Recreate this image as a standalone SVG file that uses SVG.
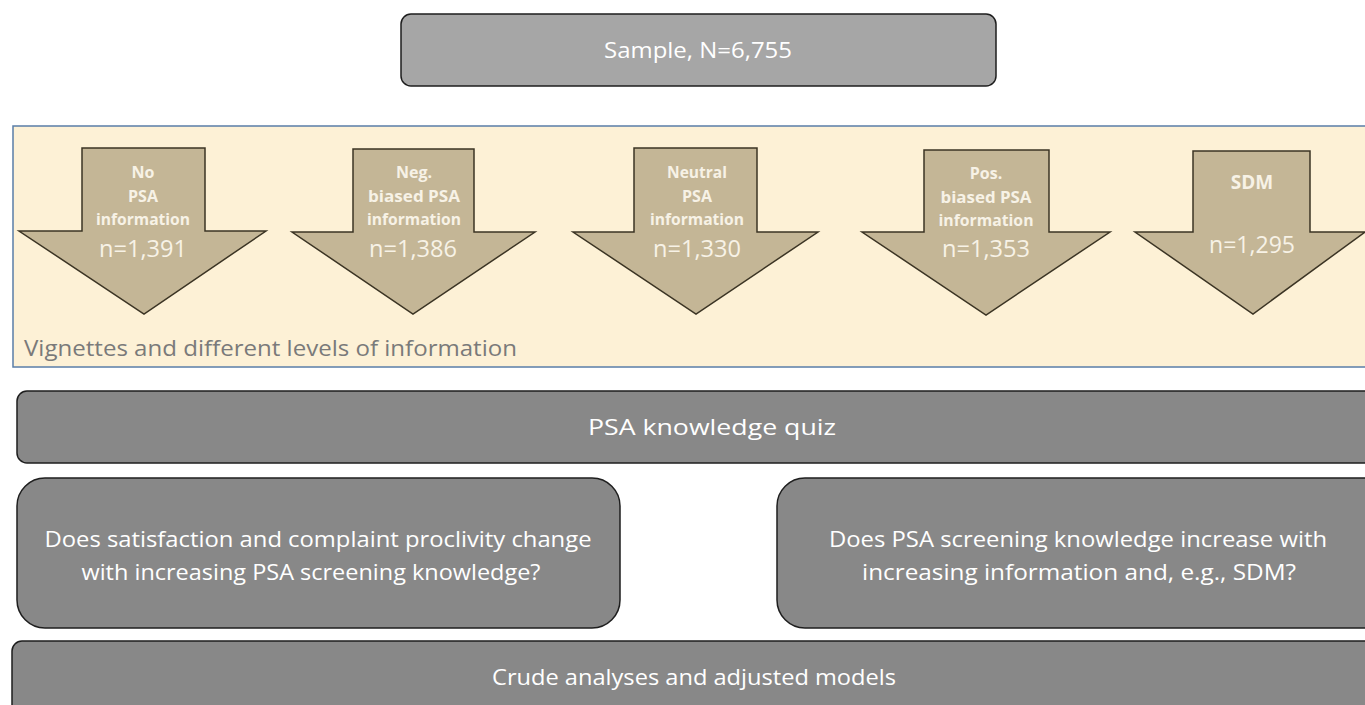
<svg xmlns="http://www.w3.org/2000/svg" width="1365" height="705" viewBox="0 0 1365 705">
<style>
.box{fill:#888888;stroke:#1e1e1e;stroke-width:1.5}
.top{fill:#a6a6a6;stroke:#1e1e1e;stroke-width:1.5}
.arr{fill:#c4b696;stroke:#3b3424;stroke-width:1.5}
.t{font-family:"Open Sans","Liberation Sans",sans-serif;fill:#ffffff;text-anchor:middle}
.big{font-size:22px}
.ab{font-family:"Open Sans","Liberation Sans",sans-serif;font-weight:bold;font-size:16px;fill:#f7f2e6;text-anchor:middle}
.sdm{font-size:19px}
.an{font-family:"Open Sans","Liberation Sans",sans-serif;font-size:24px;fill:#f7f2e6;text-anchor:middle}
</style>
<rect width="1365" height="705" fill="#ffffff"/>
<g id="sample">
<rect class="top" x="401" y="14" width="595" height="72" rx="10"/>
<text class="t big" x="698" y="58" textLength="188" lengthAdjust="spacingAndGlyphs">Sample, N=6,755</text>
</g>
<g id="panel">
<rect x="13" y="126" width="1360" height="241" fill="#fdf1d6" stroke="#5a7ea8" stroke-width="1.5"/>
<text x="24" y="356" font-family="Open Sans, Liberation Sans, sans-serif" font-size="22" fill="#7a7a7a" textLength="493" lengthAdjust="spacingAndGlyphs">Vignettes and different levels of information</text>
</g>
<g id="arrow1">
<polygon class="arr" points="82,148 205,148 205,231 266,231 144,314 19,231 82,231"/>
<text class="ab" x="143" y="178">No</text>
<text class="ab" x="143" y="202">PSA</text>
<text class="ab" x="143" y="225" textLength="94" lengthAdjust="spacingAndGlyphs">information</text>
<text class="an" x="143" y="257" textLength="88" lengthAdjust="spacingAndGlyphs">n=1,391</text>
</g>
<g id="arrow2">
<polygon class="arr" points="353,149 474,149 474,232 535,232 413,314 292,232 353,232"/>
<text class="ab" x="414" y="178">Neg.</text>
<text class="ab" x="414" y="202" textLength="92" lengthAdjust="spacingAndGlyphs">biased PSA</text>
<text class="ab" x="414" y="225" textLength="94" lengthAdjust="spacingAndGlyphs">information</text>
<text class="an" x="413" y="257" textLength="88" lengthAdjust="spacingAndGlyphs">n=1,386</text>
</g>
<g id="arrow3">
<polygon class="arr" points="634,148 757,148 757,232 818,232 696,314 573,232 634,232"/>
<text class="ab" x="697" y="178" textLength="60" lengthAdjust="spacingAndGlyphs">Neutral</text>
<text class="ab" x="697" y="202">PSA</text>
<text class="ab" x="697" y="225" textLength="94" lengthAdjust="spacingAndGlyphs">information</text>
<text class="an" x="697" y="257" textLength="88" lengthAdjust="spacingAndGlyphs">n=1,330</text>
</g>
<g id="arrow4">
<polygon class="arr" points="924,150 1049,150 1049,232 1110,232 986,315 862,232 924,232"/>
<text class="ab" x="986" y="179">Pos.</text>
<text class="ab" x="986" y="203" textLength="91" lengthAdjust="spacingAndGlyphs">biased PSA</text>
<text class="ab" x="986" y="226" textLength="95" lengthAdjust="spacingAndGlyphs">information</text>
<text class="an" x="986" y="257" textLength="88" lengthAdjust="spacingAndGlyphs">n=1,353</text>
</g>
<g id="arrow5">
<polygon class="arr" points="1193,151 1310,151 1310,232 1365,232 1253,314 1135,232 1193,232"/>
<text class="ab sdm" x="1252" y="189">SDM</text>
<text class="an" x="1252" y="253" textLength="86" lengthAdjust="spacingAndGlyphs">n=1,295</text>
</g>
<g id="quiz">
<rect class="box" x="17" y="391" width="1360" height="72" rx="10"/>
<text class="t big" x="712" y="435" textLength="248" lengthAdjust="spacingAndGlyphs">PSA knowledge quiz</text>
</g>
<g id="q-left">
<rect class="box" x="17" y="478" width="603" height="150" rx="28"/>
<text class="t big" x="318" y="547" textLength="547" lengthAdjust="spacingAndGlyphs">Does satisfaction and complaint proclivity change</text>
<text class="t big" x="311" y="580" textLength="459" lengthAdjust="spacingAndGlyphs">with increasing PSA screening knowledge?</text>
</g>
<g id="q-right">
<rect class="box" x="777" y="478" width="620" height="150" rx="28"/>
<text class="t big" x="1078" y="547" textLength="498" lengthAdjust="spacingAndGlyphs">Does PSA screening knowledge increase with</text>
<text class="t big" x="1079" y="580" textLength="434" lengthAdjust="spacingAndGlyphs">increasing information and, e.g., SDM?</text>
</g>
<g id="models">
<rect class="box" x="12" y="641" width="1380" height="90" rx="10"/>
<text class="t big" x="694" y="685" textLength="404" lengthAdjust="spacingAndGlyphs">Crude analyses and adjusted models</text>
</g>
<g id="connectors"></g>
</svg>
